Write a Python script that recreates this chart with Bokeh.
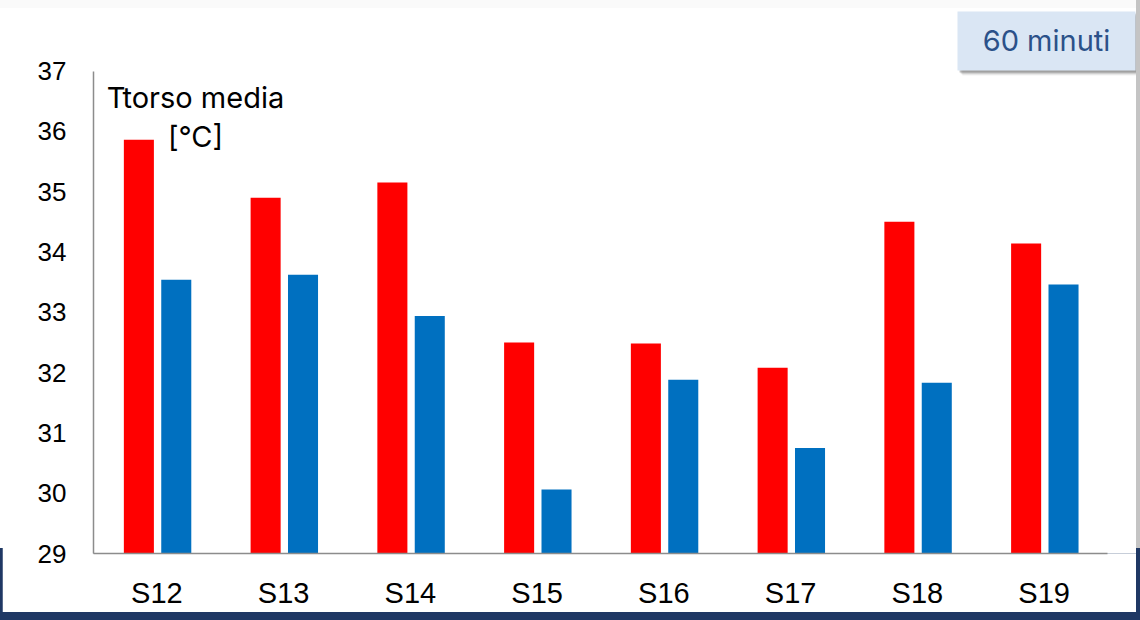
from bokeh.plotting import figure
from bokeh.layouts import column
from bokeh.models import (Range1d, FixedTicker, BoxAnnotation, Label,
                          ColumnDataSource)
from bokeh.transform import dodge
from bokeh.embed import file_html
from bokeh.resources import INLINE

# Subjects and mean torso temperature [°C] after 60 minutes
subjects = ["S12", "S13", "S14", "S15", "S16", "S17", "S18", "S19"]
t_red = [35.86, 34.90, 35.15, 32.50, 32.48, 32.08, 34.50, 34.14]
t_blue = [33.54, 33.62, 32.94, 30.06, 31.88, 30.75, 31.83, 33.46]
y_ticks = [29, 30, 31, 32, 33, 34, 35, 36, 37]
y_min, y_max = 29, 37

NAVY = "#1F3864"
PW, PH = 1134, 604          # white slide panel
SLOT = 126.75               # pixels per subject slot
UNIT = 60.31                # pixels per degree
BOTTOM = 59                 # space under the x axis

centers = [i + 0.5 for i in range(len(subjects))]
src = ColumnDataSource(dict(xc=centers, red=t_red, blue=t_blue))

frame_w = PW - 91
frame_h = PH - BOTTOM
p = figure(width=PW, height=PH,
           x_range=Range1d(0, frame_w / SLOT),
           y_range=Range1d(y_min, y_min + frame_h / UNIT),
           output_backend="svg", toolbar_location=None,
           min_border_left=91, min_border_right=0,
           min_border_top=0, min_border_bottom=BOTTOM,
           margin=(8, 4, 8, 2))
p.background_fill_color = "white"
p.border_fill_color = "white"
p.outline_line_color = None
p.xgrid.visible = False
p.ygrid.visible = False

p.vbar(x=dodge("xc", -0.142), top="red", bottom=y_min, width=0.237,
       source=src, fill_color="#FF0000", line_color=None)
p.vbar(x=dodge("xc", 0.153), top="blue", bottom=y_min, width=0.237,
       source=src, fill_color="#0070C0", line_color=None)

for ax in (p.xaxis, p.yaxis):
    ax.axis_line_color = "#8c8c8c"
    ax.axis_line_width = 1.5
    ax.major_tick_line_color = None
    ax.minor_tick_line_color = None
    ax.major_tick_out = 0
    ax.major_tick_in = 0
    ax.major_label_text_font = "Liberation Sans"
    ax.major_label_text_color = "black"

p.yaxis.ticker = FixedTicker(ticks=y_ticks)
p.yaxis.bounds = (y_min, y_max)
p.yaxis.major_label_text_font_size = "26px"
p.yaxis.major_label_standoff = 27

p.xaxis.ticker = FixedTicker(ticks=centers)
p.xaxis.major_label_overrides = {c: s for c, s in zip(centers, subjects)}
p.xaxis.bounds = (0, len(subjects))
p.xaxis.major_label_text_font_size = "29px"
p.xaxis.major_label_standoff = 23

# axis caption inside the plot
for txt, yy in [("Ttorso media", 89), ("[°C]", 128)]:
    p.add_layout(Label(x=193, y=yy, x_units="canvas", y_units="canvas",
                       text=txt, text_align="center", text_baseline="middle",
                       text_font="Inter", text_font_size="29px",
                       text_color="black"))

# "60 minuti" tag with a soft shadow
bl, br, bt, bb = 955, 1133, 3, 62
for off, a in [(5, 0.08), (4, 0.12), (3, 0.2), (2, 0.3)]:
    p.add_layout(BoxAnnotation(left=bl + off, right=br + off,
                               top=bt + off, bottom=bb + off,
                               left_units="canvas", right_units="canvas",
                               top_units="canvas", bottom_units="canvas",
                               fill_color="#555555", fill_alpha=a,
                               line_color=None, level="overlay"))
p.add_layout(BoxAnnotation(left=bl, right=br, top=bt, bottom=bb,
                           left_units="canvas", right_units="canvas",
                           top_units="canvas", bottom_units="canvas",
                           fill_color="#DAE6F4", fill_alpha=1,
                           line_color=None, level="overlay"))
p.add_layout(Label(x=1044, y=32, x_units="canvas", y_units="canvas",
                   text="60 minuti", text_align="center",
                   text_baseline="middle", text_font="Inter",
                   text_font_size="29px", text_color="#2B5189",
                   level="overlay"))

page = column(p, styles={
    "background":
        "linear-gradient(to bottom, transparent 548px, " + NAVY + " 548px), "
        "linear-gradient(to right, transparent 1136px, #c4c4c4 1136px), "
        "linear-gradient(to bottom, #fafafa 8px, white 8px)"})

open("out.html", "w").write(file_html(page, INLINE))
